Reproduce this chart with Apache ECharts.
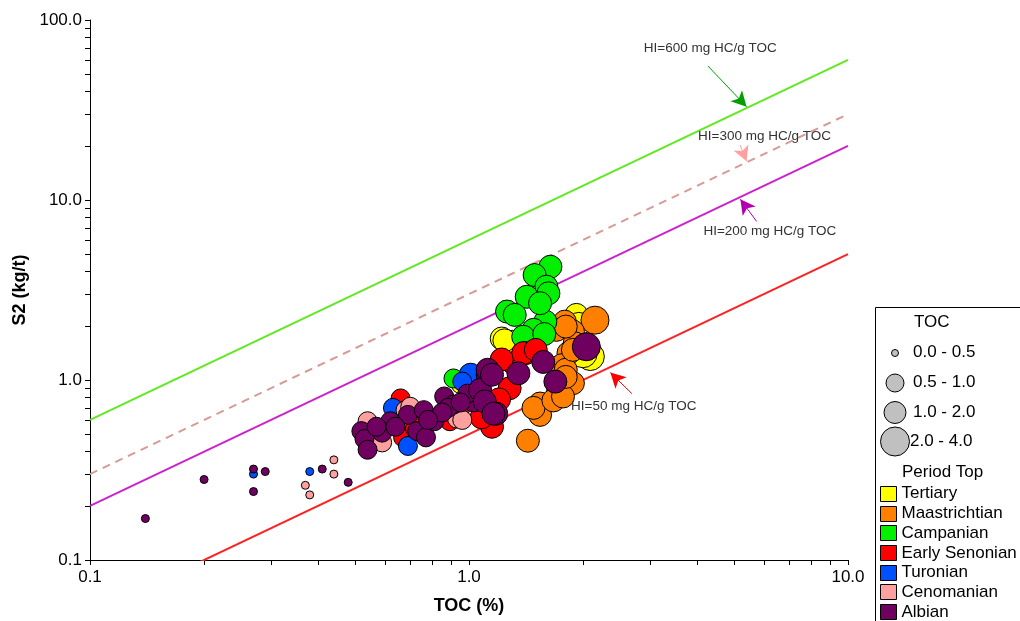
<!DOCTYPE html>
<html>
<head>
<meta charset="utf-8">
<title>S2 vs TOC</title>
<script src="https://cdn.jsdelivr.net/npm/echarts@6/dist/echarts.min.js"></script>
<style>
  html, body { margin: 0; padding: 0; background: #fff; }
  #chart { width: 1020px; height: 621px; }
</style>
</head>
<body>
<div id="chart"></div>
<script>
// Sample values: [TOC (%), S2 (kg/t)] grouped by period top
const tertiary = [[1.22,1.70],[1.30,1.63],[1.24,1.66],[1.92,2.30],[2.09,1.35],[2.00,1.40],[0.95,0.95],[1.95,2.05]];
const maastrichtian = [[2.15,2.15],[1.79,2.11],[1.70,1.90],[1.88,1.86],[1.90,1.60],[1.83,1.41],[1.76,1.21],[1.80,1.14],
  [1.80,1.98],[1.88,1.47],[1.72,0.88],[1.88,0.96],[1.54,0.74],[1.54,0.64],[1.48,0.70],[1.43,0.46],[1.67,0.77],[1.77,0.81],[1.80,1.04]];
const campanian = [[1.64,4.26],[1.49,3.83],[1.60,3.30],[1.62,3.03],[1.42,2.90],[1.26,2.40],[1.32,2.30],[1.59,2.11],
  [1.48,1.90],[1.39,1.74],[1.54,2.67],[0.91,1.02],[1.58,1.80]];
const earlySenonian = [[0.66,0.79],[0.67,0.48],[0.72,0.54],[0.89,0.59],[1.15,0.55],[1.31,1.24],[1.41,1.41],[1.28,0.90],
  [1.39,1.41],[1.50,1.47],[1.08,0.62],[0.95,0.70],[1.22,1.30],[0.75,0.60],[1.20,0.78]];
const turonian = [[0.27,0.30],[0.38,0.31],[0.63,0.70],[0.69,0.43],[1.01,1.07],[0.96,0.98]];
const cenomanian = [[0.44,0.36],[0.44,0.30],[0.37,0.26],[0.38,0.23],[0.54,0.59],[0.59,0.45],[0.68,0.68],[0.70,0.71],
  [0.93,0.61],[0.96,0.60]];
const albian = [[0.14,0.17],[0.20,0.28],[0.27,0.32],[0.27,0.24],[0.29,0.31],[0.41,0.32],[0.48,0.27],
  [0.52,0.52],[0.53,0.47],[0.54,0.41],[0.59,0.51],[0.62,0.59],[0.69,0.64],[0.73,0.52],[0.77,0.48],[0.76,0.68],
  [0.81,0.59],[0.86,0.81],[0.91,0.73],[1.12,1.07],[1.03,0.77],[0.99,0.84],[1.07,0.88],[1.18,0.65],[1.10,0.76],
  [1.35,1.09],[1.12,1.14],[2.04,1.53],[1.57,1.26],[1.69,0.98],[1.15,1.07],[1.16,0.65],[0.88,0.70],[0.95,0.75],
  [0.85,0.66],[0.78,0.60],[0.57,0.55],[0.64,0.55]];

const periodNames = ['Tertiary','Maastrichtian','Campanian','Early Senonian','Turonian','Cenomanian','Albian'];
const periodData = [tertiary, maastrichtian, campanian, earlySenonian, turonian, cenomanian, albian];
const periodColors = ['#ffff00','#ff8000','#00f000','#ff0000','#0050ff','#ffa0a0','#700060'];

// TOC classes used for marker size
const tocClassLabels = ['0.0 - 0.5','0.5 - 1.0','1.0 - 2.0','2.0 - 4.0'];
const tocClassUpper = [0.5, 1.0, 2.0, 4.0];
const tocClassSize = [8, 19, 23, 28];

// Hydrogen index reference lines (mg HC/g TOC)
const hiValues = [600, 300, 200, 50];
const hiColors = ['#60e820','#d89a94','#cc22cc','#ff2020'];
const hiDash = ['solid','dashed','solid','solid'];
const tocRange = [0.1, 10];

// Annotation arrows [tail, head] and label anchors, in data units
const hiArrows = [
  [[4.27,55.5],[5.40,33.0]],
  [[5.19,20.2],[5.40,16.4]],
  [[5.74,7.6],[5.20,10.1]],
  [[2.69,0.84],[2.36,1.10]]
];
const hiArrowColors = ['#00a000','#ffa0a0','#b000b0','#ff0000'];
const hiLabelAt = [[4.33,69.9],[6.02,22.7],[6.22,6.67],[2.72,0.71]];

const xTicks = [0.1,0.2,0.3,0.4,0.5,0.6,0.7,0.8,0.9,1,2,3,4,5,6,7,8,9,10];
const yTicks = [0.1,0.2,0.3,0.4,0.5,0.6,0.7,0.8,0.9,1,2,3,4,5,6,7,8,9,10,20,30,40,50,60,70,80,90,100];
const xLabels = [0.1, 1, 10];
const yLabels = [0.1, 1, 10, 100];

const FONT = '"Liberation Sans", Arial, sans-serif';

function sizeForToc(toc) {
  for (let i = 0; i < tocClassUpper.length; i++) {
    if (toc < tocClassUpper[i]) return tocClassSize[i];
  }
  return tocClassSize[tocClassSize.length - 1];
}

const series = [];

hiValues.forEach((hi, i) => {
  series.push({
    name: 'HI=' + hi,
    type: 'line',
    data: tocRange.map(t => [t, hi * t / 100]),
    symbol: 'none',
    clip: true,
    silent: true,
    z: 1,
    lineStyle: { color: hiColors[i], width: 2, type: hiDash[i] === 'dashed' ? [8, 6] : 'solid' },
    markLine: {
      silent: true,
      symbol: ['none', 'arrow'],
      symbolSize: [12, 15],
      lineStyle: { color: hiArrowColors[i], width: 1, type: 'solid' },
      label: { show: false },
      data: [[{ coord: hiArrows[i][0] }, { coord: hiArrows[i][1] }]]
    },
    markPoint: {
      silent: true,
      symbol: 'circle',
      symbolSize: 0,
      label: {
        show: true,
        position: 'inside',
        formatter: 'HI=' + hi + ' mg HC/g TOC',
        color: '#333',
        fontFamily: FONT,
        fontSize: 13.5
      },
      data: [{ coord: hiLabelAt[i] }]
    }
  });
});

periodNames.forEach((name, i) => {
  series.push({
    name: name,
    type: 'scatter',
    data: periodData[i],
    symbol: 'circle',
    symbolSize: v => sizeForToc(v[0]),
    z: 3,
    itemStyle: { color: periodColors[i], borderColor: '#000', borderWidth: 1, opacity: 1 }
  });
});

// Legend box: marker-size key and period colour key
const keyGraphics = [
  { type: 'rect', left: 875, top: 307, z: 1,
    shape: { x: 0.5, y: 0.5, width: 170, height: 340 },
    style: { fill: '#fff', stroke: '#000', lineWidth: 1 } },
  { type: 'text', left: 914, top: 314, z: 2,
    style: { text: 'TOC', fill: '#000', font: '17px ' + FONT } },
  { type: 'text', left: 902, top: 464, z: 2,
    style: { text: 'Period Top', fill: '#000', font: '17px ' + FONT } }
];
const keyRowY = [353, 383, 412.5, 441.5];
tocClassLabels.forEach((lab, i) => {
  keyGraphics.push({
    type: 'circle', z: 2,
    shape: { cx: 895, cy: keyRowY[i], r: [3.5, 9, 11, 14.5][i] },
    style: { fill: '#c0c0c0', stroke: '#000', lineWidth: 1 }
  });
  keyGraphics.push({
    type: 'text', z: 2, left: i === 3 ? 910 : 913, top: keyRowY[i] - 9,
    style: { text: lab, fill: '#000', font: '17px ' + FONT }
  });
});
periodNames.forEach((name, i) => {
  const cy = 493.3 + i * 19.7;
  keyGraphics.push({
    type: 'rect', z: 2,
    shape: { x: 880.5, y: Math.round(cy - 7.5) + 0.5, width: 16, height: 15 },
    style: { fill: periodColors[i], stroke: '#000', lineWidth: 1 }
  });
  keyGraphics.push({
    type: 'text', z: 2, left: 901.5, top: cy - 8,
    style: { text: name, fill: '#000', font: '17px ' + FONT }
  });
});

const option = {
  animation: false,
  backgroundColor: '#fff',
  textStyle: { fontFamily: FONT },
  grid: { left: 90, right: 172, top: 20, bottom: 61, containLabel: false },
  xAxis: {
    type: 'log',
    logBase: 10,
    min: 0.1,
    max: 10,
    name: 'TOC (%)',
    nameLocation: 'middle',
    nameGap: 37,
    nameTextStyle: { fontFamily: FONT, fontSize: 18, fontWeight: 'bold', color: '#000' },
    axisLine: { show: true, lineStyle: { color: '#000', width: 1 } },
    axisTick: { show: true, length: 5, customValues: xTicks, lineStyle: { color: '#000' } },
    axisLabel: {
      customValues: xLabels,
      formatter: v => Number(v).toFixed(1),
      fontFamily: FONT, fontSize: 17, color: '#000', margin: 9
    },
    splitLine: { show: false }
  },
  yAxis: {
    type: 'log',
    logBase: 10,
    min: 0.1,
    max: 100,
    name: 'S2 (kg/t)',
    nameLocation: 'middle',
    nameGap: 46,
    nameTextStyle: { fontFamily: FONT, fontSize: 18, fontWeight: 'bold', color: '#000' },
    axisLine: { show: true, lineStyle: { color: '#000', width: 1 } },
    axisTick: { show: true, length: 5, customValues: yTicks, lineStyle: { color: '#000' } },
    axisLabel: {
      customValues: yLabels,
      formatter: v => Number(v).toFixed(1),
      fontFamily: FONT, fontSize: 17, color: '#000', margin: 8
    },
    splitLine: { show: false }
  },
  graphic: keyGraphics,
  series: series
};

const chart = echarts.init(document.getElementById('chart'), null, { renderer: 'canvas' });
chart.setOption(option);
</script>
</body>
</html>
